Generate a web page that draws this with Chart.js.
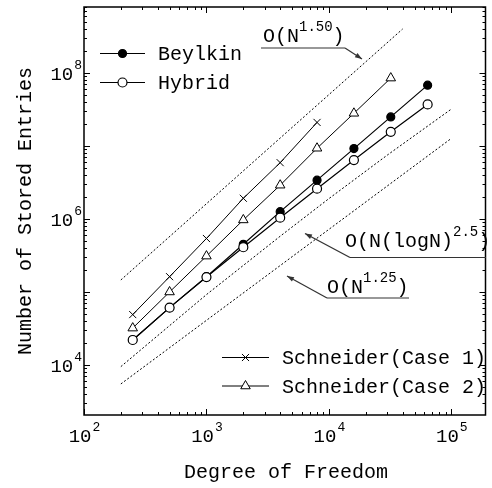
<!DOCTYPE html>
<html>
<head>
<meta charset="utf-8">
<script src="https://cdn.jsdelivr.net/npm/chart.js@4.4.1/dist/chart.umd.min.js"></script>
<style>
    html, body { margin: 0; padding: 0; background: #fff; }
    #wrap { width: 492px; height: 488px; }
</style>
</head>
<body>
<div id="wrap"><canvas id="chart_entries" width="492" height="488"></canvas></div>
<script>
// degrees of freedom (x) and stored entries (y)
var dof = [250, 500, 1000, 2000, 4000, 8000, 16000, 32000, 64000];
var beylkin = [2.2e4, 6.1e4, 1.62e5, 4.5e5, 1.26e6, 3.4e6, 9.2e6, 2.5e7, 6.8e7];
var hybrid = [2.2e4, 6.1e4, 1.6e5, 4.1e5, 1.04e6, 2.6e6, 6.4e6, 1.56e7, 3.7e7];
var schneider1 = [4.9e4, 1.62e5, 5.4e5, 1.92e6, 5.9e6, 2.1e7];
var schneider2 = [3.2e4, 1.0e5, 3.1e5, 9.7e5, 2.9e6, 9.3e6, 2.8e7, 8.5e7];

// reference slopes (dotted)
var ref150_x = [200, 40000];
var ref150_y = [1.46e5, 4.0e8];
var refLog_x = [200, 1000, 4000, 10000, 30000, 100000];
var refLog_y = [9.5e3, 9.2e4, 5.8e5, 1.9e6, 7.5e6, 3.2e7];
var ref125_x = [200, 100000];
var ref125_y = [5.5e3, 1.27e7];

// labelled ticks (exponents of 10)
var xTickExp = [2, 3, 4, 5];
var yTickExp = [4, 6, 8];

var FONT = '"Liberation Mono", "Courier New", monospace';

var pts = function(xs, ys) {
    return ys.map(function(y, i) { return { x: xs[i], y: y }; });
};

var lineSet = function(label, xs, ys, extra) {
    var ds = {
        label: label,
        data: pts(xs, ys),
        showLine: true,
        borderColor: '#000',
        borderWidth: 1.2,
        pointBorderColor: '#000',
        pointBorderWidth: 1.2,
        pointRadius: 4,
        fill: false
    };
    for (var k in extra) ds[k] = extra[k];
    return ds;
};

var refSet = function(xs, ys) {
    return {
        data: pts(xs, ys),
        showLine: true,
        borderColor: '#000',
        borderWidth: 1,
        borderDash: [2, 2],
        pointRadius: 0,
        fill: false,
        order: 5
    };
};

// draw "10" with a raised exponent
var powLabel = function(ctx, exp, x, base, align) {
    ctx.font = '19px ' + FONT;
    var w1 = ctx.measureText('10').width;
    ctx.font = '13px ' + FONT;
    var w2 = ctx.measureText(String(exp)).width;
    var start = align === 'right' ? x - w1 - w2 : x - (w1 + w2) / 2;
    ctx.textAlign = 'left';
    ctx.textBaseline = 'alphabetic';
    ctx.font = '19px ' + FONT;
    ctx.fillText('10', start, base);
    ctx.font = '13px ' + FONT;
    ctx.fillText(String(exp), start + w1 + 1, base - 11);
};

// text made of [string, isSuperscript] parts
var supText = function(ctx, parts, x, base) {
    ctx.textAlign = 'left';
    ctx.textBaseline = 'alphabetic';
    parts.forEach(function(p) {
        ctx.font = (p[1] ? '14px ' : '20px ') + FONT;
        ctx.fillText(p[0], x, p[1] ? base - 11 : base);
        x += ctx.measureText(p[0]).width;
    });
};

var arrowTo = function(ctx, x0, y0, x1, y1) {
    ctx.beginPath();
    ctx.moveTo(x0, y0);
    ctx.lineTo(x1, y1);
    ctx.stroke();
    var a = Math.atan2(y1 - y0, x1 - x0);
    ctx.beginPath();
    ctx.moveTo(x1, y1);
    ctx.lineTo(x1 - 7 * Math.cos(a) + 2.5 * Math.sin(a), y1 - 7 * Math.sin(a) - 2.5 * Math.cos(a));
    ctx.lineTo(x1 - 7 * Math.cos(a) - 2.5 * Math.sin(a), y1 - 7 * Math.sin(a) + 2.5 * Math.cos(a));
    ctx.closePath();
    ctx.fill();
};

var frame = {
    id: 'frame',
    afterDraw: function(chart) {
        var ctx = chart.ctx, a = chart.chartArea;
        var xs = chart.scales.x, ys = chart.scales.y;
        ctx.save();
        ctx.strokeStyle = '#000';
        ctx.fillStyle = '#000';

        // box
        ctx.lineWidth = 1.5;
        ctx.strokeRect(a.left, a.top, a.right - a.left, a.bottom - a.top);

        // inward ticks
        ctx.lineWidth = 1;
        ctx.beginPath();
        for (var e = 2; e <= 5; e++) {
            for (var m = 1; m <= 9; m++) {
                var v = m * Math.pow(10, e);
                if (v < xs.min || v > xs.max) continue;
                var px = Math.round(xs.getPixelForValue(v)) + 0.5;
                var len = m === 1 ? 6 : 3;
                ctx.moveTo(px, a.bottom); ctx.lineTo(px, a.bottom - len);
                ctx.moveTo(px, a.top); ctx.lineTo(px, a.top + len);
            }
        }
        for (var e2 = 3; e2 <= 8; e2++) {
            for (var m2 = 1; m2 <= 9; m2++) {
                var v2 = m2 * Math.pow(10, e2);
                if (v2 < ys.min || v2 > ys.max) continue;
                var py = Math.round(ys.getPixelForValue(v2)) + 0.5;
                var len2 = m2 === 1 ? 6 : 3;
                ctx.moveTo(a.left, py); ctx.lineTo(a.left + len2, py);
                ctx.moveTo(a.right, py); ctx.lineTo(a.right - len2, py);
            }
        }
        ctx.stroke();

        // tick labels
        xTickExp.forEach(function(e) {
            powLabel(ctx, e, xs.getPixelForValue(Math.pow(10, e)), 442, 'center');
        });
        yTickExp.forEach(function(e) {
            powLabel(ctx, e, 81, ys.getPixelForValue(Math.pow(10, e)) + 7, 'right');
        });

        // axis titles
        ctx.font = '20px ' + FONT;
        ctx.textAlign = 'center';
        ctx.textBaseline = 'alphabetic';
        ctx.fillText('Degree of Freedom', 286, 478);
        ctx.save();
        ctx.translate(26, 211);
        ctx.rotate(-Math.PI / 2);
        ctx.textBaseline = 'middle';
        ctx.fillText('Number of Stored Entries', 0, 0);
        ctx.restore();

        // legends
        var items = [
            [chart.data.datasets[0], 100, 145, 53.5, 158, 60],
            [chart.data.datasets[1], 100, 145, 82.5, 158, 89],
            [chart.data.datasets[2], 222, 269, 357.5, 282, 363.5],
            [chart.data.datasets[3], 222, 269, 386, 282, 392.5]
        ];
        items.forEach(function(it) {
            var ds = it[0];
            ctx.lineWidth = ds.borderWidth;
            ctx.beginPath();
            ctx.moveTo(it[1], it[3]); ctx.lineTo(it[2], it[3]);
            ctx.stroke();
            ctx.fillStyle = ds.pointBackgroundColor;
            ctx.lineWidth = ds.pointBorderWidth;
            Chart.helpers.drawPoint(ctx, {
                pointStyle: ds.pointStyle, radius: ds.pointRadius,
                rotation: 0, borderWidth: ds.pointBorderWidth
            }, (it[1] + it[2]) / 2, it[3]);
            ctx.fillStyle = '#000';
            ctx.font = '20px ' + FONT;
            ctx.textAlign = 'left';
            ctx.textBaseline = 'alphabetic';
            ctx.fillText(ds.label, it[4], it[5]);
        });

        // slope annotations
        ctx.fillStyle = '#000';
        supText(ctx, [['O(N', 0], ['1.50', 1], [')', 0]], 263, 41.5);
        supText(ctx, [['O(N(logN)', 0], ['2.5', 1], [')', 0]], 345, 247);
        supText(ctx, [['O(N', 0], ['1.25', 1], [')', 0]], 327, 293);
        ctx.strokeStyle = '#333';
        ctx.fillStyle = '#333';
        ctx.lineWidth = 1.2;
        ctx.beginPath();
        ctx.moveTo(261, 48); ctx.lineTo(345, 48);
        ctx.moveTo(350, 257.5); ctx.lineTo(486, 257.5);
        ctx.moveTo(327, 298); ctx.lineTo(409, 298);
        ctx.stroke();
        arrowTo(ctx, 345, 48, 362, 59);
        arrowTo(ctx, 350, 257.5, 305, 233.5);
        arrowTo(ctx, 327, 298, 287, 276);

        ctx.restore();
    }
};

var entries_chart = new Chart(document.getElementById('chart_entries'), {
    type: 'scatter',
    data: {
        datasets: [
            lineSet('Beylkin', dof, beylkin, { pointStyle: 'circle', pointBackgroundColor: '#000', order: 2 }),
            lineSet('Hybrid', dof, hybrid, { pointStyle: 'circle', pointBackgroundColor: '#fff', pointRadius: 4.5, order: 1 }),
            lineSet('Schneider(Case 1)', dof, schneider1, { pointStyle: 'crossRot', pointBackgroundColor: '#fff', pointRadius: 5, borderWidth: 1, pointBorderWidth: 1, order: 3 }),
            lineSet('Schneider(Case 2)', dof, schneider2, { pointStyle: 'triangle', pointBackgroundColor: '#fff', pointRadius: 5.5, borderWidth: 1, pointBorderWidth: 1, order: 3 }),
            refSet(ref150_x, ref150_y),
            refSet(refLog_x, refLog_y),
            refSet(ref125_x, ref125_y)
        ]
    },
    options: {
        responsive: false,
        animation: false,
        layout: { padding: { left: 84, right: 1, top: 7, bottom: 73 } },
        plugins: { legend: { display: false }, tooltip: { enabled: false } },
        scales: {
            x: { type: 'logarithmic', min: 100, max: 1.9e5, display: false },
            y: { type: 'logarithmic', min: 2065, max: 8.0e8, display: false }
        }
    },
    plugins: [frame]
});
</script>
</body>
</html>
